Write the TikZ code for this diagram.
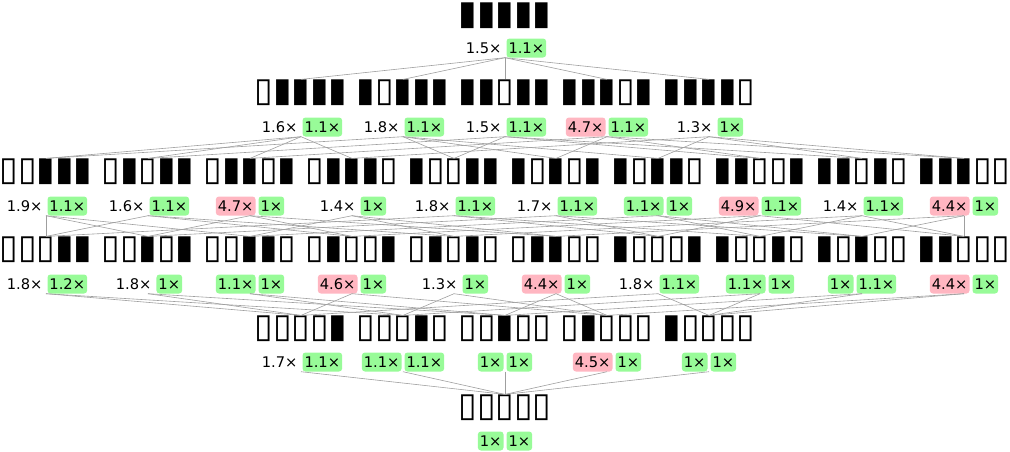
\documentclass[tikz,border=0pt]{standalone}
\usepackage{fontspec}
\setmainfont{DejaVu Sans}
\definecolor{okgreen}{HTML}{98FB98}
\definecolor{badpink}{HTML}{FFB6C1}
\tikzset{badge/.style={inner xsep=2pt, inner ysep=4.25pt, text height=10.5pt, text depth=0pt,
                       rounded corners=3pt, font=\fontsize{14.67}{16}\selectfont}}
\newcommand\pl[1]{\tikz[baseline=(t.base)]\node[badge](t){#1};}
\newcommand\gn[1]{\tikz[baseline=(t.base)]\node[badge,fill=okgreen](t){#1};}
\newcommand\pk[1]{\tikz[baseline=(t.base)]\node[badge,fill=badpink](t){#1};}
\newcommand\gap{\hspace{3pt}}

\begin{document}
\begin{tikzpicture}[x=1pt,y=-1pt,
                    bits/.style={inner sep=0.5pt, font=\fontsize{33.8}{36}\selectfont},
                    lbl/.style={inner sep=0pt},
                    edge/.style={draw=gray!75, line width=0.6pt}]
\useasboundingbox (0,0) rectangle (1010,452);
% top
\node[bits] (b11111) at (505,16) {▮▮▮▮▮};
\node[lbl] (l11111) at (505,48) {\pl{1.5×}\gap\gn{1.1×}};
% four ones
\node[bits] (b01111) at (301,93) {▯▮▮▮▮};
\node[bits] (b10111) at (403,93) {▮▯▮▮▮};
\node[bits] (b11011) at (505,93) {▮▮▯▮▮};
\node[bits] (b11101) at (607,93) {▮▮▮▯▮};
\node[bits] (b11110) at (709,93) {▮▮▮▮▯};
\node[lbl] (l01111) at (301,127) {\pl{1.6×}\gap\gn{1.1×}};
\node[lbl] (l10111) at (403,127) {\pl{1.8×}\gap\gn{1.1×}};
\node[lbl] (l11011) at (505,127) {\pl{1.5×}\gap\gn{1.1×}};
\node[lbl] (l11101) at (607,127) {\pk{4.7×}\gap\gn{1.1×}};
\node[lbl] (l11110) at (709,127) {\pl{1.3×}\gap\gn{1×}};
% three ones
\node[bits] (b00111) at (46,172) {▯▯▮▮▮};
\node[bits] (b01011) at (148,172) {▯▮▯▮▮};
\node[bits] (b01101) at (250,172) {▯▮▮▯▮};
\node[bits] (b01110) at (352,172) {▯▮▮▮▯};
\node[bits] (b10011) at (454,172) {▮▯▯▮▮};
\node[bits] (b10101) at (556,172) {▮▯▮▯▮};
\node[bits] (b10110) at (658,172) {▮▯▮▮▯};
\node[bits] (b11001) at (760,172) {▮▮▯▯▮};
\node[bits] (b11010) at (862,172) {▮▮▯▮▯};
\node[bits] (b11100) at (964,172) {▮▮▮▯▯};
\node[lbl] (l00111) at (46,206) {\pl{1.9×}\gap\gn{1.1×}};
\node[lbl] (l01011) at (148,206) {\pl{1.6×}\gap\gn{1.1×}};
\node[lbl] (l01101) at (250,206) {\pk{4.7×}\gap\gn{1×}};
\node[lbl] (l01110) at (352,206) {\pl{1.4×}\gap\gn{1×}};
\node[lbl] (l10011) at (454,206) {\pl{1.8×}\gap\gn{1.1×}};
\node[lbl] (l10101) at (556,206) {\pl{1.7×}\gap\gn{1.1×}};
\node[lbl] (l10110) at (658,206) {\gn{1.1×}\gap\gn{1×}};
\node[lbl] (l11001) at (760,206) {\pk{4.9×}\gap\gn{1.1×}};
\node[lbl] (l11010) at (862,206) {\pl{1.4×}\gap\gn{1.1×}};
\node[lbl] (l11100) at (964,206) {\pk{4.4×}\gap\gn{1×}};
% two ones
\node[bits] (b00011) at (46,250) {▯▯▯▮▮};
\node[bits] (b00101) at (148,250) {▯▯▮▯▮};
\node[bits] (b00110) at (250,250) {▯▯▮▮▯};
\node[bits] (b01001) at (352,250) {▯▮▯▯▮};
\node[bits] (b01010) at (454,250) {▯▮▯▮▯};
\node[bits] (b01100) at (556,250) {▯▮▮▯▯};
\node[bits] (b10001) at (658,250) {▮▯▯▯▮};
\node[bits] (b10010) at (760,250) {▮▯▯▮▯};
\node[bits] (b10100) at (862,250) {▮▯▮▯▯};
\node[bits] (b11000) at (964,250) {▮▮▯▯▯};
\node[lbl] (l00011) at (46,284) {\pl{1.8×}\gap\gn{1.2×}};
\node[lbl] (l00101) at (148,284) {\pl{1.8×}\gap\gn{1×}};
\node[lbl] (l00110) at (250,284) {\gn{1.1×}\gap\gn{1×}};
\node[lbl] (l01001) at (352,284) {\pk{4.6×}\gap\gn{1×}};
\node[lbl] (l01010) at (454,284) {\pl{1.3×}\gap\gn{1×}};
\node[lbl] (l01100) at (556,284) {\pk{4.4×}\gap\gn{1×}};
\node[lbl] (l10001) at (658,284) {\pl{1.8×}\gap\gn{1.1×}};
\node[lbl] (l10010) at (760,284) {\gn{1.1×}\gap\gn{1×}};
\node[lbl] (l10100) at (862,284) {\gn{1×}\gap\gn{1.1×}};
\node[lbl] (l11000) at (964,284) {\pk{4.4×}\gap\gn{1×}};
% one one
\node[bits] (b00001) at (301,329) {▯▯▯▯▮};
\node[bits] (b00010) at (403,329) {▯▯▯▮▯};
\node[bits] (b00100) at (505,329) {▯▯▮▯▯};
\node[bits] (b01000) at (607,329) {▯▮▯▯▯};
\node[bits] (b10000) at (709,329) {▮▯▯▯▯};
\node[lbl] (l00001) at (301,362) {\pl{1.7×}\gap\gn{1.1×}};
\node[lbl] (l00010) at (403,362) {\gn{1.1×}\gap\gn{1.1×}};
\node[lbl] (l00100) at (505,362) {\gn{1×}\gap\gn{1×}};
\node[lbl] (l01000) at (607,362) {\pk{4.5×}\gap\gn{1×}};
\node[lbl] (l10000) at (709,362) {\gn{1×}\gap\gn{1×}};
% bottom
\node[bits] (b00000) at (505,408) {▯▯▯▯▯};
\node[lbl] (l00000) at (505,441) {\gn{1×}\gap\gn{1×}};
% covering relations
\foreach \u/\v in {11111/01111,11111/10111,11111/11011,11111/11101,11111/11110,
    01111/00111,01111/01011,01111/01101,01111/01110,
    10111/00111,10111/10011,10111/10101,10111/10110,
    11011/01011,11011/10011,11011/11001,11011/11010,
    11101/01101,11101/10101,11101/11001,11101/11100,
    11110/01110,11110/10110,11110/11010,11110/11100,
    00111/00011,00111/00101,00111/00110,
    01011/00011,01011/01001,01011/01010,
    01101/00101,01101/01001,01101/01100,
    01110/00110,01110/01010,01110/01100,
    10011/00011,10011/10001,10011/10010,
    10101/00101,10101/10001,10101/10100,
    10110/00110,10110/10010,10110/10100,
    11001/01001,11001/10001,11001/11000,
    11010/01010,11010/10010,11010/11000,
    11100/01100,11100/10100,11100/11000,
    00011/00001,00011/00010,00101/00001,00101/00100,
    00110/00010,00110/00100,01001/00001,01001/01000,
    01010/00010,01010/01000,01100/00100,01100/01000,
    10001/00001,10001/10000,10010/00010,10010/10000,
    10100/00100,10100/10000,11000/01000,11000/10000,
    00001/00000,00010/00000,00100/00000,01000/00000,10000/00000}
  \draw[edge] (l\u.south) -- (b\v.north);
\end{tikzpicture}
\end{document}
